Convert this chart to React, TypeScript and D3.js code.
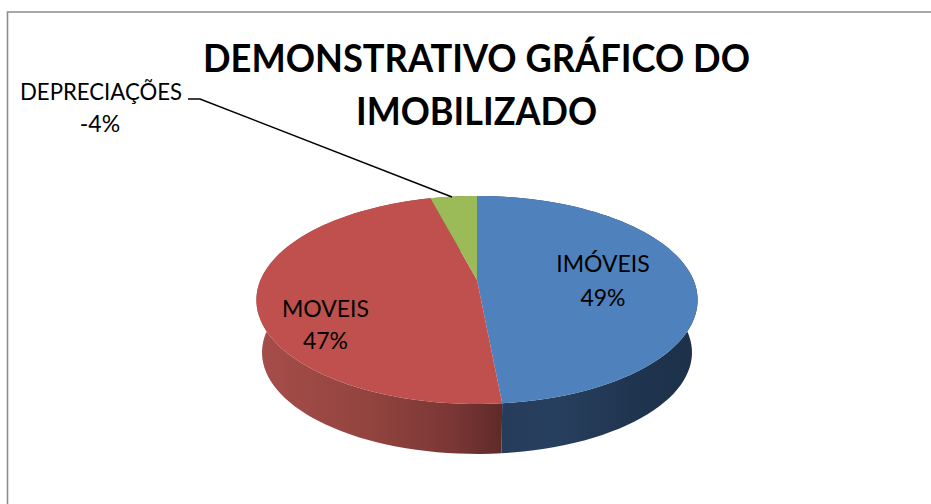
import React from "react";
import * as d3 from "d3";

const categories = ["IMÓVEIS", "MOVEIS", "DEPRECIAÇÕES"];
const shares = [48.5, 47.4, 4.1];
const percentLabels = ["49%", "47%", "-4%"];
const topColors = ["#4f81bd", "#c0504d", "#9bbb59"];
const wallStops = [
  [[0, "#263c5b"], [0.3, "#273f5e"], [0.7, "#1f344e"], [1, "#1c3049"]],
  [[0, "#a64d4a"], [0.45, "#93443f"], [0.8, "#7a3735"], [1, "#602a29"]],
  [[0, "#7b9446"], [1, "#5c6f35"]],
];
const titleLines = ["DEMONSTRATIVO GRÁFICO DO", "IMOBILIZADO"];
const titleWidths = [547, 241];

const W = 931;
const H = 504;

// Perspective projection of a flat disc: the near edge is drawn larger than the far edge.
const K = 0.192;
const project = (cx: number, cy: number, a: number, b: number) => (theta: number): [number, number] => {
  const u = -Math.cos(theta);
  const v = Math.sin(theta);
  const w = 1 - K * u;
  return [cx + (a * v) / w, cy + (b * u) / w];
};
const topDisc = project(477, 280, 216.5, 100.2);
const baseDisc = project(477, 333, 211, 97.7);

const line = d3.line();
const arcPoints = (f: (t: number) => [number, number], a0: number, a1: number) =>
  d3.range(0, 73).map((i) => f(a0 + ((a1 - a0) * i) / 72));

const slices = d3.pie<number>().sort(null)(shares);

export default function App() {
  return (
    <svg
      width={W}
      height={H}
      viewBox={`0 0 ${W} ${H}`}
      style={{ position: "absolute", left: 0, top: 0, background: "#fff" }}
    >
      <defs>
        {slices.map((s, i) => (
          <linearGradient
            key={i}
            id={`wall${i}`}
            gradientUnits="userSpaceOnUse"
            x1={i === 0 ? 501 : 258}
            x2={i === 0 ? 695 : 501}
            y1={0}
            y2={0}
          >
            {wallStops[i].map(([o, c], j) => (
              <stop key={j} offset={o as number} stopColor={c as string} />
            ))}
          </linearGradient>
        ))}
      </defs>

      <path d="M7.5,504V12H931" fill="none" stroke="#8c8c8c" strokeWidth={1.6} />

      {slices.map((s, i) => (
        <path
          key={`w${i}`}
          d={
            line([
              ...arcPoints(topDisc, s.startAngle, s.endAngle),
              ...arcPoints(baseDisc, s.endAngle, s.startAngle),
            ]) + "Z"
          }
          fill={`url(#wall${i})`}
        />
      ))}

      {slices.map((s, i) => (
        <path
          key={`t${i}`}
          d={line([[477, 280], ...arcPoints(topDisc, s.startAngle, s.endAngle)]) + "Z"}
          fill={topColors[i]}
        />
      ))}

      <path d="M188,99H200L452,197" fill="none" stroke="#000" strokeWidth={1.5} />

      <g fontFamily="Lato, 'Open Sans', sans-serif" fill="#000" textAnchor="middle">
        {titleLines.map((t, i) => (
          <text
            key={t}
            x={476.5}
            y={72 + i * 53}
            fontSize={38}
            fontWeight={700}
            textLength={titleWidths[i]}
            lengthAdjust="spacingAndGlyphs"
          >
            {t}
          </text>
        ))}
        <text x={603} y={272} fontSize={23}>{categories[0]}</text>
        <text x={603} y={306} fontSize={23}>{percentLabels[0]}</text>
        <text x={325.5} y={317} fontSize={23}>{categories[1]}</text>
        <text x={325.5} y={349} fontSize={23}>{percentLabels[1]}</text>
        <text x={101} y={100} fontSize={23} textLength={162} lengthAdjust="spacingAndGlyphs">{categories[2]}</text>
        <text x={100} y={132} fontSize={23}>{percentLabels[2]}</text>
      </g>
    </svg>
  );
}
